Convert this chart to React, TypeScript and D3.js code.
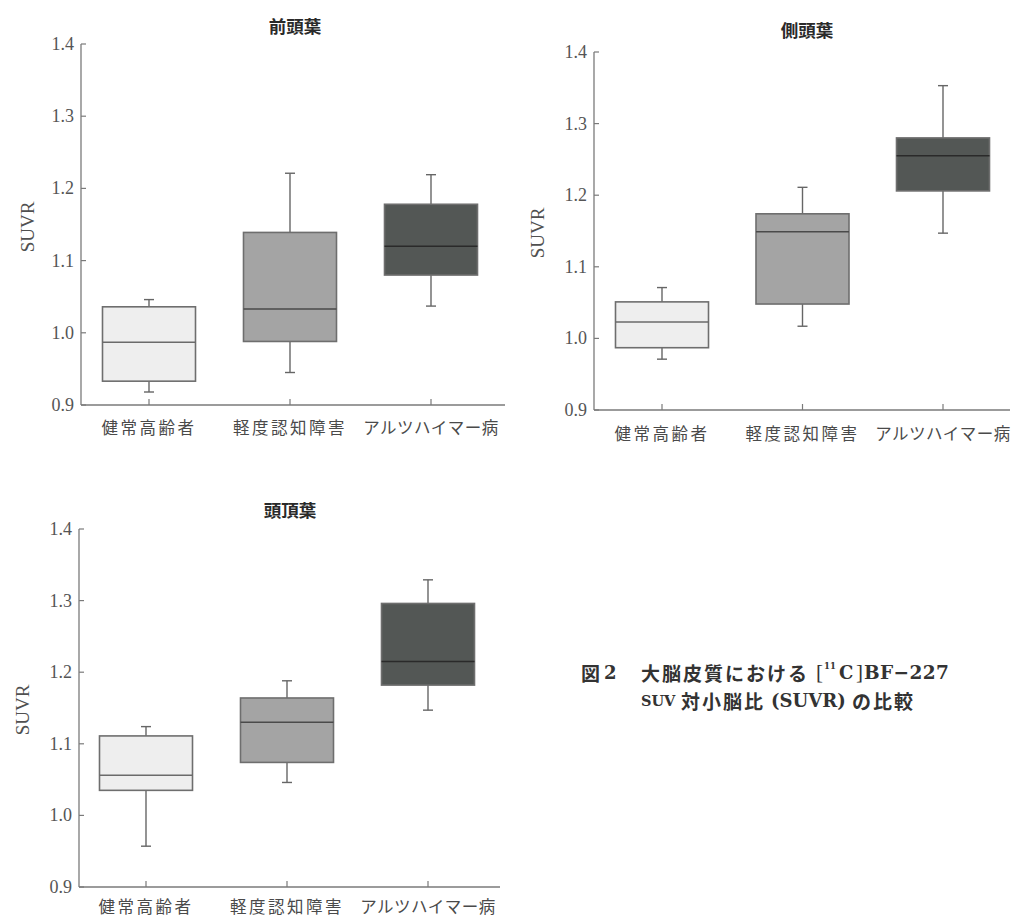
import React from "react";
import * as d3 from "d3";

const categories = ["健常高齢者", "軽度認知障害", "アルツハイマー病"];
const panelTitles = ["前頭葉", "側頭葉", "頭頂葉"];
const yTicks = [0.9, 1.0, 1.1, 1.2, 1.3, 1.4];
const yTickLabels = ["0.9", "1.0", "1.1", "1.2", "1.3", "1.4"];

// 前頭葉
const frontalLow = [0.918, 0.945, 1.037];
const frontalQ1 = [0.933, 0.988, 1.08];
const frontalMed = [0.987, 1.033, 1.12];
const frontalQ3 = [1.036, 1.139, 1.178];
const frontalHigh = [1.046, 1.221, 1.219];

// 側頭葉
const temporalLow = [0.971, 1.017, 1.147];
const temporalQ1 = [0.987, 1.048, 1.206];
const temporalMed = [1.023, 1.149, 1.255];
const temporalQ3 = [1.051, 1.174, 1.28];
const temporalHigh = [1.071, 1.211, 1.353];

// 頭頂葉
const parietalLow = [0.957, 1.046, 1.147];
const parietalQ1 = [1.035, 1.074, 1.182];
const parietalMed = [1.056, 1.13, 1.215];
const parietalQ3 = [1.111, 1.164, 1.296];
const parietalHigh = [1.124, 1.188, 1.329];

const boxFills = ["#eeeeee", "#a4a4a4", "#535755"];
const medianColors = ["#6a6a6a", "#4a4a4a", "#2a2a2a"];

type Layout = {
  axisX: number;
  yTop: number;
  yBottom: number;
  xEnd: number;
  catStart: number;
  catEnd: number;
  titleX: number;
  titleY: number;
  ylabX: number;
  ylabY: number;
  xlabY: number;
};

const layouts: Layout[] = [
  { axisX: 81, yTop: 44, yBottom: 405, xEnd: 505, catStart: 149, catEnd: 431, titleX: 295, titleY: 25, ylabX: 27, ylabY: 227, xlabY: 427 },
  { axisX: 594, yTop: 52, yBottom: 410, xEnd: 1010, catStart: 662, catEnd: 943, titleX: 807, titleY: 29, ylabX: 537, ylabY: 233, xlabY: 433 },
  { axisX: 79, yTop: 529, yBottom: 887, xEnd: 500, catStart: 146, catEnd: 428, titleX: 290, titleY: 509, ylabX: 22, ylabY: 710, xlabY: 906 },
];

const panelData = [
  { low: frontalLow, q1: frontalQ1, med: frontalMed, q3: frontalQ3, high: frontalHigh },
  { low: temporalLow, q1: temporalQ1, med: temporalMed, q3: temporalQ3, high: temporalHigh },
  { low: parietalLow, q1: parietalQ1, med: parietalMed, q3: parietalQ3, high: parietalHigh },
];

const serif = "'Liberation Serif', 'DejaVu Serif', serif";
const capSerif = "'DejaVu Serif', 'Liberation Serif', serif";
const cjk = "'Noto Sans CJK JP', 'Noto Sans', sans-serif";

function Panel({ idx }: { idx: number }) {
  const L = layouts[idx];
  const D = panelData[idx];
  const y = d3.scaleLinear().domain([0.9, 1.4]).range([L.yBottom, L.yTop]);
  const x = d3.scalePoint<string>().domain(categories).range([L.catStart, L.catEnd]);
  const boxW = 93;
  const capW = 10;
  const axisColor = "#7a7a7a";
  return (
    <g>
      <text x={L.titleX} y={L.titleY} textAnchor="middle" dominantBaseline="central"
        fontFamily={cjk} fontWeight={700} fontSize={17.5} fill="#2a2a2a">{panelTitles[idx]}</text>
      <text transform={`translate(${L.ylabX},${L.ylabY}) rotate(-90)`} textAnchor="middle"
        dominantBaseline="central" fontFamily={serif} fontSize={19} fill="#505050">SUVR</text>
      <line x1={L.axisX} x2={L.axisX} y1={y(1.4)} y2={y(0.9)} stroke={axisColor} strokeWidth={1.3} />
      <line x1={L.axisX} x2={L.xEnd} y1={y(0.9)} y2={y(0.9)} stroke={axisColor} strokeWidth={1.3} />
      {yTicks.map((t, i) => (
        <g key={i}>
          <line x1={L.axisX} x2={L.axisX + 5} y1={y(t)} y2={y(t)} stroke={axisColor} strokeWidth={1.2} />
          <text x={L.axisX - 7} y={y(t)} textAnchor="end" dominantBaseline="central"
            fontFamily={serif} fontSize={18} fill="#555">{yTickLabels[i]}</text>
        </g>
      ))}
      {categories.map((c, i) => (
        <g key={c}>
          <line x1={x(c)} x2={x(c)} y1={y(0.9)} y2={y(0.9) - 6} stroke={axisColor} strokeWidth={1.2} />
          <text x={x(c)} y={L.xlabY} textAnchor="middle" dominantBaseline="central"
            fontFamily={cjk} fontSize={16.5} letterSpacing={i === 2 ? 0.5 : 2.5} fill="#4a4a4a">{c}</text>
        </g>
      ))}
      {categories.map((c, i) => {
        const cx = x(c) as number;
        return (
          <g key={"b" + c}>
            <line x1={cx} x2={cx} y1={y(D.high[i])} y2={y(D.q3[i])} stroke="#666" strokeWidth={1.4} />
            <line x1={cx} x2={cx} y1={y(D.q1[i])} y2={y(D.low[i])} stroke="#666" strokeWidth={1.4} />
            <line x1={cx - capW / 2} x2={cx + capW / 2} y1={y(D.high[i])} y2={y(D.high[i])} stroke="#666" strokeWidth={1.4} />
            <line x1={cx - capW / 2} x2={cx + capW / 2} y1={y(D.low[i])} y2={y(D.low[i])} stroke="#666" strokeWidth={1.4} />
            <rect x={cx - boxW / 2} y={y(D.q3[i])} width={boxW} height={y(D.q1[i]) - y(D.q3[i])}
              fill={boxFills[i]} stroke="#6e6e6e" strokeWidth={1.6} />
            <line x1={cx - boxW / 2} x2={cx + boxW / 2} y1={y(D.med[i])} y2={y(D.med[i])}
              stroke={medianColors[i]} strokeWidth={1.5} />
          </g>
        );
      })}
    </g>
  );
}

export default function App() {
  const l1 = 672;
  const l2 = 700;
  return (
    <svg width={1015} height={920} style={{ position: "absolute", left: 0, top: 0, background: "#fff" }}>
      <Panel idx={0} />
      <Panel idx={1} />
      <Panel idx={2} />
      <g fill="#333" dominantBaseline="central">
        <text x={581} y={l1} fontFamily={cjk} fontWeight={700} fontSize={19}>図</text>
        <text x={604} y={l1} fontFamily={capSerif} fontWeight={700} fontSize={18}>2</text>
        <text x={641} y={l1} fontFamily={cjk} fontWeight={700} fontSize={19} letterSpacing={2}>大脳皮質における</text>
        <text x={816} y={l1} fontFamily={serif} fontSize={21}>[</text>
        <text x={824} y={l1 - 6} fontFamily={capSerif} fontWeight={700} fontSize={8.5}>11</text>
        <text x={839} y={l1} fontFamily={capSerif} fontWeight={700} fontSize={18}>C</text>
        <text x={856} y={l1} fontFamily={serif} fontSize={21}>]</text>
        <text x={864} y={l1} fontFamily={capSerif} fontWeight={700} fontSize={18.5} letterSpacing={0.4}>BF−227</text>

        <text x={641} y={l2} fontFamily={capSerif} fontWeight={700} fontSize={14.5}>SUV</text>
        <text x={681} y={l2} fontFamily={cjk} fontWeight={700} fontSize={19} letterSpacing={2}>対小脳比</text>
        <text x={771} y={l2} fontFamily={capSerif} fontWeight={700} fontSize={18}>(SUVR)</text>
        <text x={852} y={l2} fontFamily={cjk} fontWeight={700} fontSize={19} letterSpacing={2}>の比較</text>
      </g>
    </svg>
  );
}
